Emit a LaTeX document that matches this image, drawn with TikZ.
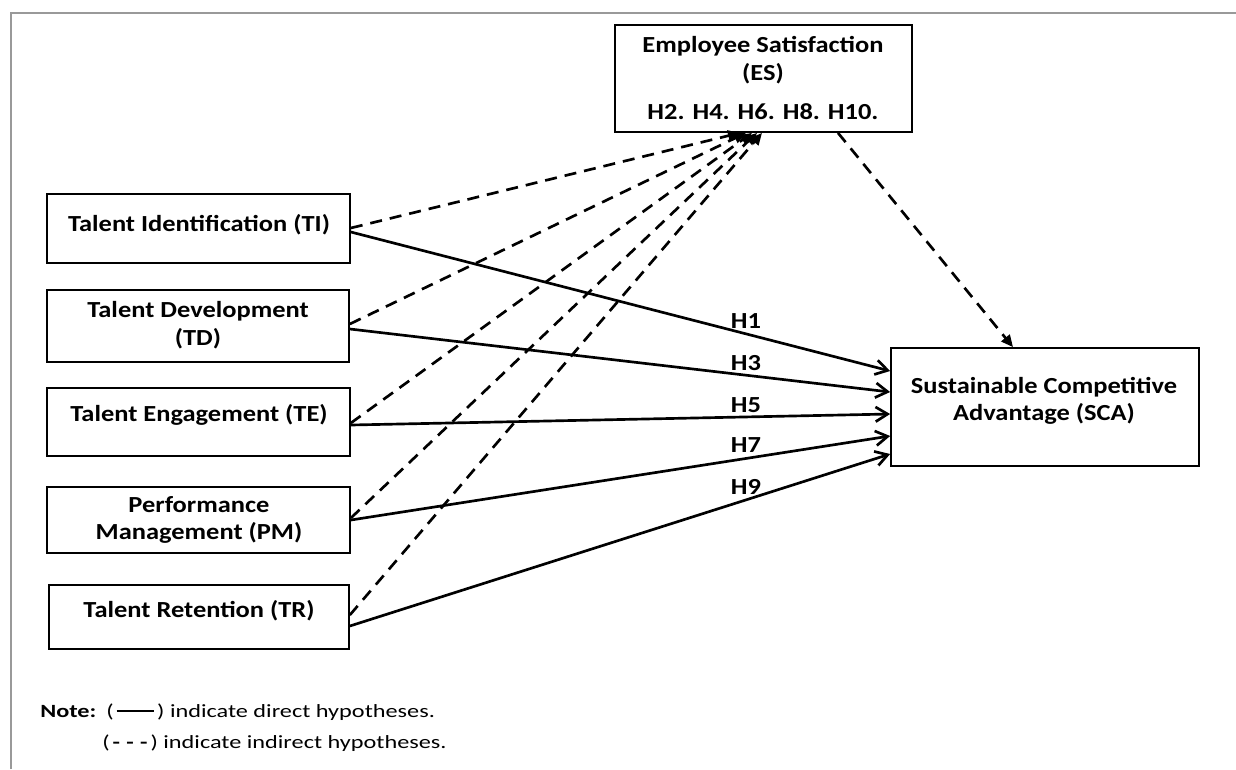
\documentclass[tikz,border=0pt]{standalone}
\usepackage{fontspec}
\setmainfont{Carlito}
\newfontfamily\boxfont{Carlito}[FakeStretch=1.15]
\newfontfamily\notefont{Carlito}[FakeStretch=1.3]
\usetikzlibrary{arrows.meta}
\begin{document}
\begin{tikzpicture}[x=0.75pt,y=-0.75pt,
  box/.style={draw, line width=1.3pt, inner sep=0pt},
  txt/.style={anchor=base, inner sep=0pt, font=\boxfont\bfseries\fontsize{17.25pt}{21pt}\selectfont},
  hlab/.style={anchor=base, inner sep=0pt, font=\boxfont\bfseries\fontsize{17.25pt}{21pt}\selectfont},
  note/.style={anchor=base west, inner sep=0pt, font=\notefont\fontsize{14pt}{17pt}\selectfont},
  direct/.style={line width=2pt, -{Straight Barb[length=9pt,width=11pt,line width=2pt]}},
  indirect/.style={line width=2pt, dash pattern=on 9pt off 6pt, -{Triangle[length=9pt,width=8pt]}},
  frame/.style={draw=gray!80, line width=1.3pt}
]
\useasboundingbox (0,0) rectangle (1236,769);
% frame
\draw[frame] (11,769) -- (11,13) -- (1236,13);

% boxes
\node[box, minimum width=227.25pt, minimum height=51.75pt] (TI) at (198.5,228.5) {};
\node[box, minimum width=226.5pt, minimum height=54pt] (TD) at (198,326) {};
\node[box, minimum width=227.25pt, minimum height=51pt] (TE) at (198.5,422) {};
\node[box, minimum width=227.25pt, minimum height=49.5pt] (PM) at (198.5,520) {};
\node[box, minimum width=225pt, minimum height=48pt] (TR) at (199,617) {};
\node[box, minimum width=231pt, minimum height=88.5pt] (SCA) at (1045,407) {};
\node[box, minimum width=222.75pt, minimum height=80.25pt] (ES) at (763.5,78.5) {};

% box texts
\node[txt] (TIt) at (199,231) {Talent Identification (TI)};
\node[txt] (TDa) at (198,317) {Talent Development};
\node[txt] (TDb) at (198,345) {(TD)};
\node[txt] (TEt) at (199,421) {Talent Engagement (TE)};
\node[txt] (PMa) at (199,512) {Performance};
\node[txt] (PMb) at (199,539) {Management (PM)};
\node[txt] (TRt) at (199,617) {Talent Retention (TR)};
\node[txt] (SCAa) at (1044,393) {Sustainable Competitive};
\node[txt] (SCAb) at (1044,420) {Advantage (SCA)};
\node[txt] (ESa) at (763,52) {Employee Satisfaction};
\node[txt] (ESb) at (763,80) {(ES)};
\node[txt] (ESc) at (763,119) {H2. H4. H6. H8. H10.};

% connector end points
\coordinate (ti1) at (TI.east |- 0,232);
\coordinate (td1) at (TD.east |- 0,329);
\coordinate (te1) at (TE.east |- 0,425);
\coordinate (pm1) at (PM.east |- 0,520);
\coordinate (tr1) at (TR.east |- 0,626);
\coordinate (sc1) at (SCA.west |- 0,371);
\coordinate (sc3) at (SCA.west |- 0,392);
\coordinate (sc5) at (SCA.west |- 0,414);
\coordinate (sc7) at (SCA.west |- 0,436);
\coordinate (sc9) at (SCA.west |- 0,454);

\coordinate (ti2) at (TI.east |- 0,228);
\coordinate (td2) at (TD.east |- 0,324);
\coordinate (te2) at (TE.east |- 0,423);
\coordinate (pm2) at (PM.east |- 0,518);
\coordinate (tr2) at (TR.east |- 0,615);
\coordinate (es1) at (740,0 |- ES.south);
\coordinate (es2) at (746,0 |- ES.south);
\coordinate (es3) at (752,0 |- ES.south);
\coordinate (es4) at (757,0 |- ES.south);
\coordinate (es5) at (762,0 |- ES.south);
\coordinate (esout) at (838,0 |- ES.south);
\coordinate (scin) at (1013,0 |- SCA.north);

% direct hypotheses
\draw[direct] (ti1) -- (sc1);
\draw[direct] (td1) -- (sc3);
\draw[direct] (te1) -- (sc5);
\draw[direct] (pm1) -- (sc7);
\draw[direct] (tr1) -- (sc9);

% indirect hypotheses
\draw[indirect] (ti2) -- (es1);
\draw[indirect] (td2) -- (es2);
\draw[indirect] (te2) -- (es3);
\draw[indirect] (pm2) -- (es4);
\draw[indirect] (tr2) -- (es5);
\draw[indirect] (esout) -- (scin);

% hypothesis labels
\node[hlab] (H1) at (746,328) {H1};
\node[hlab] (H3) at (746,370) {H3};
\node[hlab] (H5) at (746,412) {H5};
\node[hlab] (H7) at (746,452) {H7};
\node[hlab] (H9) at (746,494) {H9};

% legend
\node[note, font=\notefont\bfseries\fontsize{14pt}{17pt}\selectfont] (note) at (40,717) {Note:};
\node[note] (leg1) at (106,717) {(\,\rule[0.28em]{2em}{1.5pt}\,) indicate direct hypotheses.};
\node[note] (leg2) at (102,748) {(\,\textbf{-\,\,-\,\,-}\,) indicate indirect hypotheses.};
\end{tikzpicture}
\end{document}
